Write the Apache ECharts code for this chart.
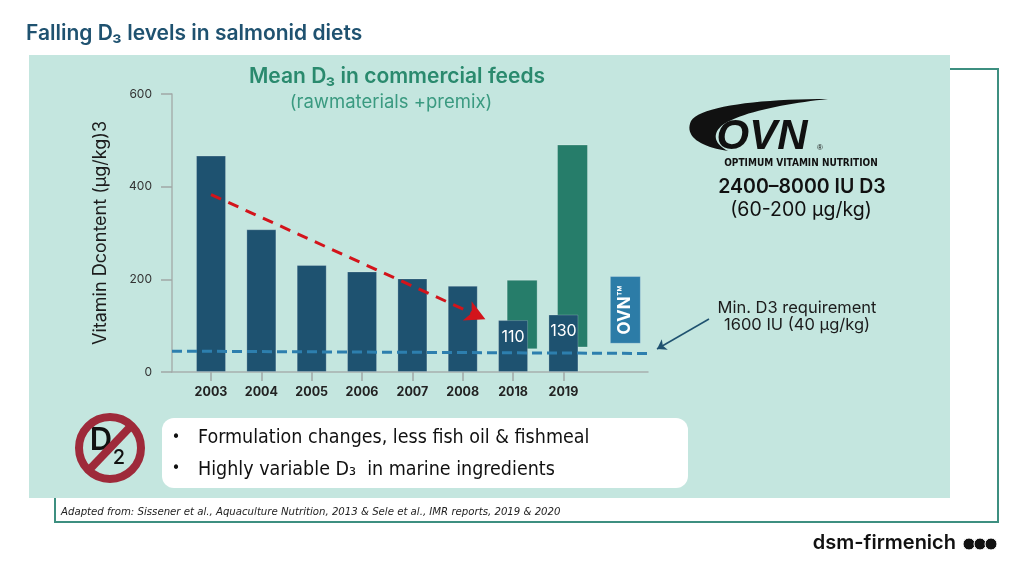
<!DOCTYPE html>
<html>
<head>
<meta charset="utf-8">
<script src="https://cdn.jsdelivr.net/npm/echarts@6/dist/echarts.min.js"></script>
<style>
html, body { margin: 0; padding: 0; background: #fff; }
#chart { width: 1024px; height: 576px; }
</style>
</head>
<body>
<div id="chart"></div>
<script>
// values (µg/kg)
var years = ['2003', '2004', '2005', '2006', '2007', '2008', '2018', '2019'];
var meanD3 = [467, 308, 231, 217, 202, 186, 112, 124];
var barLabels = ['', '', '', '', '', '', '110', '130'];
var rangeIdx = [6, 7];          // 2018, 2019
var rangeLow = [50, 54];
var rangeHigh = [198, 490];
var ovnRange = [62, 206];
var minReq = [45, 40];          // dashed line, left end / right end
var trendFrom = [0, 383];
var trendTo = [5.45, 114];
var yTicks = [0, 200, 400, 600];

var X_MIN = -0.775, X_MAX = 8.68, OVN_X = 8.23, RANGE_SHIFT = 0.18, BAR_W = 30;
var FONT = 'Inter, "Noto Sans", sans-serif';
var NARROW = '"Liberation Sans Narrow", "DejaVu Sans Condensed", sans-serif';

var chart = echarts.init(document.getElementById('chart'));

function floatRect(color, shift) {
    return function (params, api) {
        var x = api.value(0) + shift;
        var lo = api.coord([x, api.value(1)]);
        var hi = api.coord([x, api.value(2)]);
        return {
            type: 'rect',
            shape: { x: lo[0] - BAR_W / 2, y: hi[1], width: BAR_W, height: lo[1] - hi[1] },
            style: { fill: color, stroke: 'rgba(255,255,255,0.25)', lineWidth: 1 }
        };
    };
}

// cubic bezier sampled into points, for the logo swoosh
function bez(p0, p1, p2, p3) {
    var pts = [];
    for (var t = 0; t <= 1.0001; t += 0.05) {
        var u = 1 - t;
        pts.push([
            u * u * u * p0[0] + 3 * u * u * t * p1[0] + 3 * u * t * t * p2[0] + t * t * t * p3[0],
            u * u * u * p0[1] + 3 * u * u * t * p1[1] + 3 * u * t * t * p2[1] + t * t * t * p3[1]
        ]);
    }
    return pts;
}
var swoosh = [].concat(
    bez([828, 99], [760, 99], [700, 106], [691, 121]),
    bez([691, 121], [684, 136], [700, 147], [728, 151]),
    bez([728, 151], [714, 144], [711, 133], [724, 124]),
    bez([724, 124], [745, 111], [790, 103], [828, 99])
);

var tickIdx = years.map(function (y, i) { return i; });

var option = {
    animation: false,
    grid: { left: 172, right: 376, top: 94, bottom: 204 },
    xAxis: {
        type: 'value', min: X_MIN, max: X_MAX,
        splitLine: { show: false },
        axisLine: { show: true, lineStyle: { color: '#a7b0ae', width: 1.5 } },
        axisTick: { show: true, customValues: tickIdx, length: 9, lineStyle: { color: '#a0a8a6', width: 1.5 } },
        axisLabel: {
            customValues: tickIdx, margin: 14,
            formatter: function (v) { return years[Math.round(v)]; },
            fontFamily: FONT, fontWeight: 'bold', fontSize: 12.5, color: '#222'
        }
    },
    yAxis: {
        type: 'value', min: yTicks[0], max: yTicks[yTicks.length - 1], interval: 200,
        splitLine: { show: false },
        axisLine: { show: true, onZero: false, lineStyle: { color: '#a7b0ae', width: 1.5 } },
        axisTick: { show: true, length: 11, lineStyle: { color: '#a0a8a6', width: 1.5 } },
        axisLabel: { margin: 20, fontFamily: FONT, fontSize: 12, color: '#333', padding: [0, 0, 6, 0] },
        name: 'Vitamin Dcontent (µg/kg)3', nameLocation: 'middle', nameRotate: 90, nameGap: 62,
        nameTextStyle: { fontFamily: FONT, fontSize: 18, color: '#1c1c1c' }
    },
    series: [
        {
            type: 'custom', name: 'range', z: 2,
            renderItem: floatRect('#267d6a', RANGE_SHIFT),
            data: rangeIdx.map(function (x, i) { return [x, rangeLow[i], rangeHigh[i]]; })
        },
        {
            type: 'custom', name: 'OVN', z: 2,
            renderItem: function (params, api) {
                var lo = api.coord([api.value(0), api.value(1)]);
                var hi = api.coord([api.value(0), api.value(2)]);
                return {
                    type: 'group',
                    children: [
                        { type: 'rect', shape: { x: lo[0] - BAR_W / 2, y: hi[1], width: BAR_W, height: lo[1] - hi[1] },
                          style: { fill: '#2c7ca7', stroke: 'rgba(255,255,255,0.25)', lineWidth: 1 } },
                        { type: 'text', x: lo[0], y: (lo[1] + hi[1]) / 2, rotation: Math.PI / 2,
                          style: { text: 'OVN™', fill: '#fff', font: 'bold 17px ' + FONT, align: 'center', verticalAlign: 'middle' } }
                    ]
                };
            },
            data: [[OVN_X, ovnRange[0], ovnRange[1]]]
        },
        {
            type: 'bar', name: 'Mean D3', z: 3, barWidth: BAR_W,
            itemStyle: { color: '#1e5270', borderColor: 'rgba(255,255,255,0.2)', borderWidth: 1 },
            label: {
                show: true, position: 'insideTop', distance: 9,
                formatter: function (p) { return barLabels[p.dataIndex]; },
                color: '#fff', fontFamily: FONT, fontSize: 16
            },
            data: meanD3.map(function (v, i) { return [i, v]; }),
            markLine: {
                silent: true, label: { show: false }, symbol: ['none', 'arrow'], symbolSize: [16, 20],
                lineStyle: { color: '#d3141b', width: 3, type: [11, 8] },
                data: [[{ coord: trendFrom }, { coord: trendTo }]]
            }
        },
        {
            type: 'line', name: 'requirement', z: 5, data: [],
            markLine: {
                silent: true, label: { show: false }, symbol: 'none',
                data: [
                    [{ coord: [X_MIN, minReq[0]], lineStyle: { color: '#2d7fae', width: 3, type: [10, 5] } },
                     { coord: [X_MAX, minReq[1]] }],
                    [{ x: 709, y: 319, symbol: 'none', lineStyle: { color: '#1f5270', width: 1.5, type: 'solid' } },
                     { x: 657, y: 349, symbol: 'arrow', symbolSize: 9 }]
                ]
            }
        }
    ],
    graphic: [
        { type: 'rect', z: -10, shape: { x: 29, y: 55, width: 921, height: 443 }, style: { fill: '#c4e6df' } },
        { type: 'polyline', shape: { points: [[950, 69], [998, 69], [998, 522], [55, 522], [55, 498]] },
          style: { stroke: '#3d8f80', lineWidth: 2, fill: null } },
        { type: 'text', x: 26, y: 34, style: { text: 'Falling D₃ levels in salmonid diets', fill: '#1f5270',
          font: '600 21px ' + FONT, verticalAlign: 'middle' } },
        { type: 'text', x: 397, y: 77, style: { text: 'Mean D₃ in commercial feeds', fill: '#2a8a6e',
          font: '600 21px ' + FONT, align: 'center', verticalAlign: 'middle' } },
        { type: 'text', x: 391, y: 102, style: { text: '(rawmaterials +premix)', fill: '#3a9a80',
          font: '18.5px ' + FONT, align: 'center', verticalAlign: 'middle' } },

        // OVN logo
        { type: 'polygon', shape: { points: swoosh }, style: { fill: '#111' } },
        { type: 'text', x: 762, y: 137, style: { text: 'OVN', fill: '#111', font: 'italic bold 42px "Liberation Sans", sans-serif',
          align: 'center', verticalAlign: 'middle' } },
        { type: 'text', x: 820, y: 148, style: { text: '®', fill: '#111', font: '8px sans-serif', align: 'center', verticalAlign: 'middle' } },
        { type: 'text', x: 801, y: 163, style: { text: 'OPTIMUM VITAMIN NUTRITION', fill: '#111',
          font: 'bold 10px ' + NARROW, align: 'center', verticalAlign: 'middle' } },
        { type: 'text', x: 802, y: 187, style: { text: '2400–8000 IU D3', fill: '#111', font: '600 19.5px ' + FONT,
          align: 'center', verticalAlign: 'middle' } },
        { type: 'text', x: 801, y: 210, style: { text: '(60-200 µg/kg)', fill: '#111', font: '19.5px ' + FONT,
          align: 'center', verticalAlign: 'middle' } },

        { type: 'text', x: 797, y: 308, style: { text: 'Min. D3 requirement', fill: '#1c1c1c', font: '16.5px ' + FONT,
          align: 'center', verticalAlign: 'middle' } },
        { type: 'text', x: 797, y: 325, style: { text: '1600 IU (40 µg/kg)', fill: '#1c1c1c', font: '16.5px ' + FONT,
          align: 'center', verticalAlign: 'middle' } },

        // no-D2 sign
        { type: 'text', x: 101, y: 441, style: { text: 'D', fill: '#111', font: '600 31px ' + FONT, align: 'center', verticalAlign: 'middle' } },
        { type: 'text', x: 119, y: 458, style: { text: '2', fill: '#111', font: '500 20px ' + FONT, align: 'center', verticalAlign: 'middle' } },
        { type: 'circle', shape: { cx: 110, cy: 448, r: 31 }, style: { fill: null, stroke: '#9e2a3a', lineWidth: 8 } },
        { type: 'line', shape: { x1: 131, y1: 426, x2: 89, y2: 470 }, style: { stroke: '#9e2a3a', lineWidth: 8 } },

        { type: 'rect', shape: { x: 162, y: 418, width: 526, height: 70, r: 12 }, style: { fill: '#fff' } },
        { type: 'text', x: 176, y: 438, style: { text: '•', fill: '#111', font: '16px ' + NARROW, align: 'center', verticalAlign: 'middle' } },
        { type: 'text', x: 198, y: 438, style: { text: 'Formulation changes, less fish oil & fishmeal', fill: '#111',
          font: '19.5px ' + NARROW, verticalAlign: 'middle' } },
        { type: 'text', x: 176, y: 469, style: { text: '•', fill: '#111', font: '16px ' + NARROW, align: 'center', verticalAlign: 'middle' } },
        { type: 'text', x: 198, y: 470, style: { text: 'Highly variable D₃  in marine ingredients', fill: '#111',
          font: '19.5px ' + NARROW, verticalAlign: 'middle' } },

        { type: 'text', x: 61, y: 512, style: { text: 'Adapted from: Sissener et al., Aquaculture Nutrition, 2013 & Sele et al., IMR reports, 2019 & 2020',
          fill: '#222', font: 'italic 11.3px ' + NARROW, verticalAlign: 'middle' } },

        // dsm-firmenich mark
        { type: 'text', x: 956, y: 543, style: { text: 'dsm-firmenich', fill: '#111', font: '600 20px ' + FONT,
          align: 'right', verticalAlign: 'middle' } },
        { type: 'circle', shape: { cx: 969, cy: 544, r: 6 }, style: { fill: '#111', stroke: '#fff', lineWidth: 1 } },
        { type: 'circle', shape: { cx: 980, cy: 544, r: 6 }, style: { fill: '#111', stroke: '#fff', lineWidth: 1 } },
        { type: 'circle', shape: { cx: 991, cy: 544, r: 6 }, style: { fill: '#111', stroke: '#fff', lineWidth: 1 } }
    ]
};

chart.setOption(option);
</script>
</body>
</html>
